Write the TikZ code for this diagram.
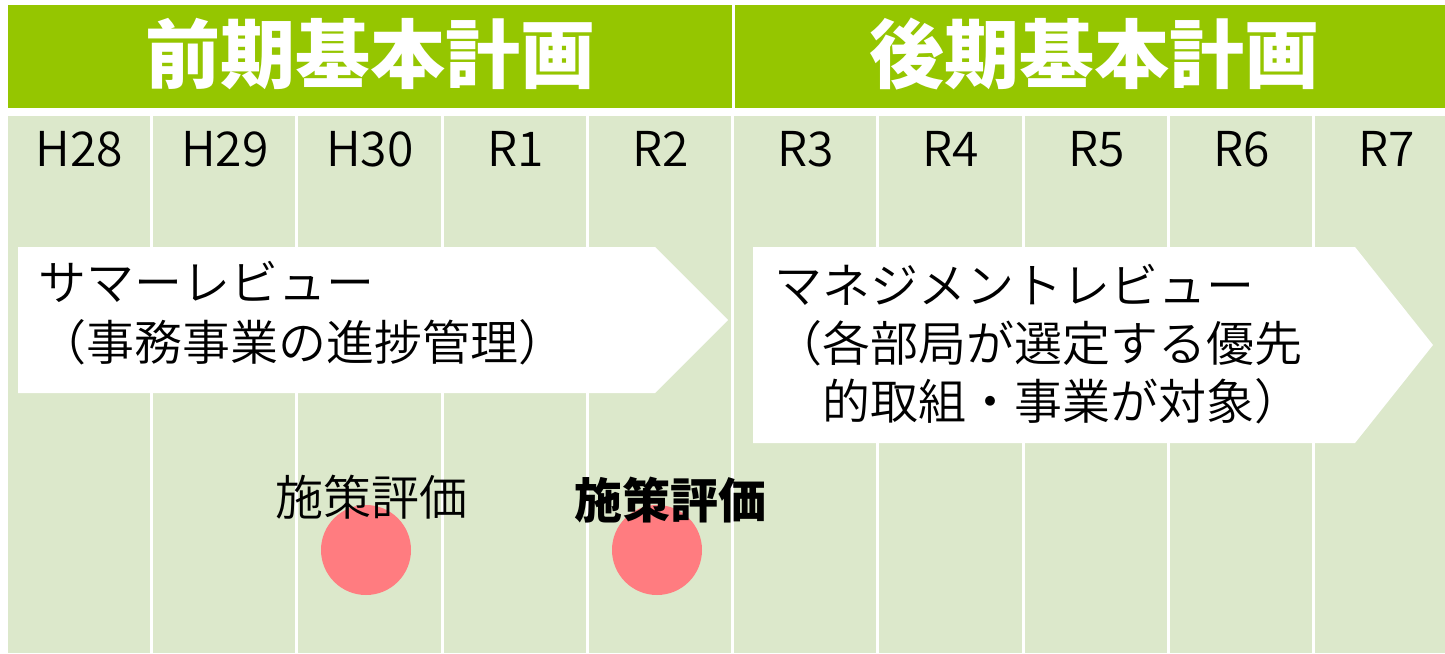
\documentclass[tikz,border=0pt]{standalone}
\usepackage{fontspec}
\setmainfont{Noto Sans CJK JP}
\newfontfamily\lightcjk{Noto Sans CJK JP DemiLight}
\definecolor{hdrgreen}{RGB}{149,198,0}
\definecolor{cellgreen}{RGB}{220,232,203}
\definecolor{dotpink}{RGB}{255,124,128}
\tikzset{
  hdrtext/.style={text=white,font=\fontsize{75}{80}\selectfont\bfseries,inner sep=0pt,anchor=base},
  yeartext/.style={text=black,font=\fontsize{48}{56}\selectfont\lightcjk,inner sep=0pt,anchor=base},
  arrowtext/.style={text=black,font=\fontsize{48}{58}\selectfont\lightcjk,inner sep=0pt,anchor=base west},
  evaltext/.style={text=black,font=\fontsize{48}{56}\selectfont,inner sep=0pt,anchor=base},
  gridline/.style={draw=white,line width=3pt},
  arrowbox/.style={fill=white},
  evaldot/.style={circle,fill=dotpink,minimum size=90pt,inner sep=0pt}
}
\begin{document}
\begin{tikzpicture}[x=1pt,y=-1pt]
\useasboundingbox (0,0) rectangle (1445,653);
\fill[white] (0,0) rectangle (1445,653);
% header band
\fill[hdrgreen] (8,5) rectangle (1445,108);
\draw[gridline] (733,5) -- (733,108);
\node[hdrtext] (hdrA) at (370,82) {前期基本計画};
\node[hdrtext] (hdrB) at (1094,82) {後期基本計画};
% cells
\fill[cellgreen] (8,116) rectangle (1445,653);
\foreach \k in {0,...,8}{
  \draw[gridline] ({151.5+145.25*\k},116) -- ({151.5+145.25*\k},653);
}
% year labels
\foreach \lbl [count=\i] in {H28,H29,H30,R1,R2,R3,R4,R5,R6,R7}{
  \node[yeartext] (y\i) at ({79.5+145.25*(\i-1)},166) {\lbl};
}
% arrows
\fill[arrowbox] (18,247) -- (655,247) -- (728,320) -- (655,393) -- (18,393) -- cycle;
\fill[arrowbox] (753,247) -- (1355,247) -- (1433,345) -- (1355,443) -- (753,443) -- cycle;
\node[arrowtext] (sumA) at (38,300) {サマーレビュー};
\node[arrowtext] (sumB) at (38,360) {（事務事業の進捗管理）};
\node[arrowtext] (mgA) at (774,303) {マネジメントレビュー};
\node[arrowtext] (mgB) at (774,361) {（各部局が選定する優先};
\node[arrowtext] (mgC) at (822,419) {的取組・事業が対象）};
% evaluation dots
\node[evaldot] (dot1) at (366,550) {};
\node[evaldot] (dot2) at (657,550) {};
\node[evaltext] (ev1) at (371,515) {\lightcjk 施策評価};
\node[evaltext] (ev2) at (670,518) {\bfseries 施策評価};
\end{tikzpicture}
\end{document}
